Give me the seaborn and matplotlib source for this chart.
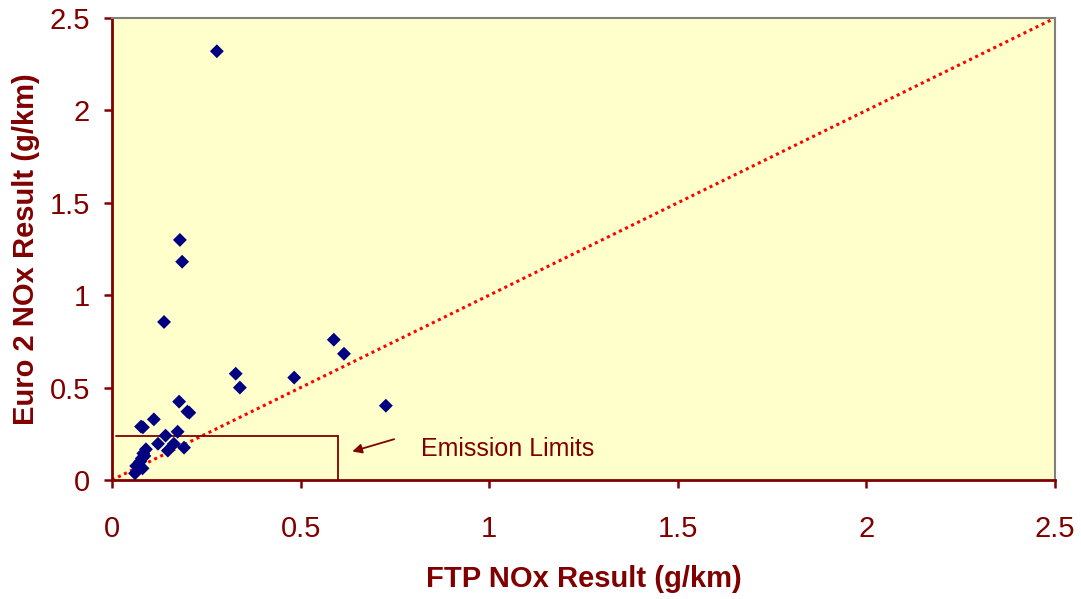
import matplotlib
matplotlib.use("Agg")
import matplotlib.pyplot as plt
import seaborn as sns
import pandas as pd

# Data (g/km)
ftp_nox = [0.278, 0.180, 0.186, 0.138, 0.328, 0.339, 0.483, 0.588, 0.615, 0.726,
           0.178, 0.205, 0.200, 0.111, 0.077, 0.082, 0.174, 0.142, 0.122, 0.164,
           0.148, 0.191, 0.090, 0.083, 0.079, 0.064, 0.081, 0.061, 0.086, 0.075]
euro2_nox = [2.320, 1.299, 1.181, 0.855, 0.575, 0.500, 0.554, 0.759, 0.683, 0.402,
             0.424, 0.364, 0.370, 0.328, 0.289, 0.285, 0.261, 0.240, 0.196, 0.196,
             0.159, 0.175, 0.166, 0.144, 0.117, 0.076, 0.063, 0.036, 0.130, 0.100]
parity = [0.0, 2.5]
limit_x = 0.60
limit_y = 0.24
ticks = [0, 0.5, 1, 1.5, 2, 2.5]
tick_labels = ["0", "0.5", "1", "1.5", "2", "2.5"]

df = pd.DataFrame({"ftp": ftp_nox, "euro2": euro2_nox})

sns.set_style("white")
plt.rcParams["font.family"] = ["Liberation Sans", "DejaVu Sans"]

dark_red = "#800000"
fig = plt.figure(figsize=(10.81, 5.99), dpi=100)
ax = fig.add_axes([0.1036, 0.1987, 0.8724, 0.7713])
ax.set_facecolor("#FFFFCC")

# parity line
sns.lineplot(x=parity, y=parity, ax=ax, color="#FF0000", linestyle=(0, (1, 1.2)),
             linewidth=2.2, zorder=2)

# emission limits box
ax.plot([0.01, limit_x], [limit_y, limit_y], color=dark_red, linewidth=1.3, zorder=2)
ax.plot([limit_x, limit_x], [limit_y, 0], color=dark_red, linewidth=1.3, zorder=2)

sns.scatterplot(data=df, x="ftp", y="euro2", ax=ax, marker="D", s=50,
                color="#000080", edgecolor="none", zorder=3)

ax.annotate("", xy=(0.63, 0.15), xytext=(0.755, 0.225),
            arrowprops=dict(arrowstyle="-|>", color=dark_red, lw=1.3,
                            mutation_scale=14))
ax.text(0.82, 0.17, "Emission Limits", color=dark_red, fontsize=18,
        va="center", ha="left")

ax.set_xlim(0, 2.5)
ax.set_ylim(0, 2.5)
ax.set_xticks(ticks)
ax.set_xticklabels(tick_labels)
ax.set_yticks(ticks)
ax.set_yticklabels(tick_labels)
ax.tick_params(axis="both", bottom=True, left=True, colors=dark_red, labelsize=21,
               direction="out", length=6, width=1.8, labelcolor=dark_red)
ax.tick_params(axis="x", pad=19)
ax.tick_params(axis="y", pad=10)

for s in ["left", "bottom"]:
    ax.spines[s].set_color(dark_red)
    ax.spines[s].set_linewidth(2)
for s in ["top", "right"]:
    ax.spines[s].set_color("#808080")
    ax.spines[s].set_linewidth(1.5)
    ax.spines[s].set_visible(True)

ax.set_xlabel("FTP NOx Result (g/km)", color=dark_red, fontsize=21,
              fontweight="bold", labelpad=16)
ax.set_ylabel("Euro 2 NOx Result (g/km)", color=dark_red, fontsize=21,
              fontweight="bold", labelpad=7)
if ax.get_legend():
    ax.get_legend().remove()

fig.savefig("out.png", dpi=100, facecolor="white")
